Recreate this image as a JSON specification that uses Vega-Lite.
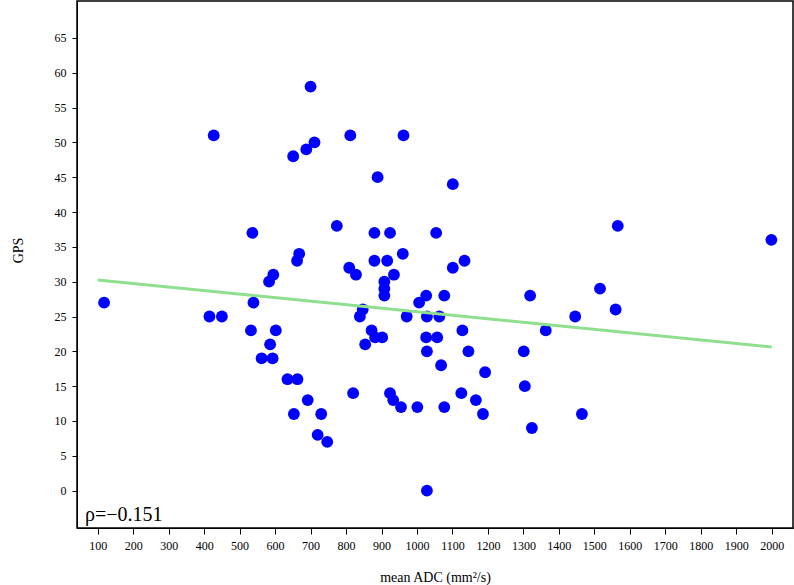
{
  "$schema": "https://vega.github.io/schema/vega-lite/v6.json",
  "width": 716,
  "height": 527,
  "autosize": {"type": "none"},
  "padding": {"left": 77, "top": 1, "right": 1, "bottom": 57},
  "background": "white",
  "config": {
    "view": {"stroke": "black", "strokeWidth": 1.5},
    "axis": {
      "labelFont": "Liberation Serif",
      "labelFontSize": 12,
      "labelColor": "black",
      "titleFont": "Liberation Serif",
      "titleFontSize": 14,
      "titleFontWeight": "normal",
      "titleColor": "black",
      "tickColor": "black",
      "domainColor": "black",
      "grid": false,
      "labelOverlap": false,
      "labelFlush": false,
      "format": "d"
    }
  },
  "datasets": {
    "pts": [
      {"adc": 118, "gps": 27},
      {"adc": 415, "gps": 25},
      {"adc": 450, "gps": 25},
      {"adc": 427, "gps": 51},
      {"adc": 536, "gps": 37},
      {"adc": 539, "gps": 27},
      {"adc": 532, "gps": 23},
      {"adc": 583, "gps": 30},
      {"adc": 595, "gps": 31},
      {"adc": 602, "gps": 23},
      {"adc": 586, "gps": 21},
      {"adc": 562, "gps": 19},
      {"adc": 593, "gps": 19},
      {"adc": 635, "gps": 16},
      {"adc": 663, "gps": 16},
      {"adc": 653, "gps": 11},
      {"adc": 692, "gps": 13},
      {"adc": 730, "gps": 11},
      {"adc": 720, "gps": 8},
      {"adc": 747, "gps": 7},
      {"adc": 662, "gps": 33},
      {"adc": 668, "gps": 34},
      {"adc": 651, "gps": 48},
      {"adc": 688, "gps": 49},
      {"adc": 711, "gps": 50},
      {"adc": 700, "gps": 58},
      {"adc": 774, "gps": 38},
      {"adc": 809, "gps": 32},
      {"adc": 828, "gps": 31},
      {"adc": 812, "gps": 51},
      {"adc": 820, "gps": 14},
      {"adc": 880, "gps": 37},
      {"adc": 924, "gps": 37},
      {"adc": 889, "gps": 45},
      {"adc": 962, "gps": 51},
      {"adc": 960, "gps": 34},
      {"adc": 880, "gps": 33},
      {"adc": 916, "gps": 33},
      {"adc": 935, "gps": 31},
      {"adc": 908, "gps": 30},
      {"adc": 908, "gps": 29},
      {"adc": 908, "gps": 28},
      {"adc": 847, "gps": 26},
      {"adc": 839, "gps": 25},
      {"adc": 872, "gps": 23},
      {"adc": 882, "gps": 22},
      {"adc": 902, "gps": 22},
      {"adc": 854, "gps": 21},
      {"adc": 924, "gps": 14},
      {"adc": 933, "gps": 13},
      {"adc": 955, "gps": 12},
      {"adc": 971, "gps": 25},
      {"adc": 1001, "gps": 12},
      {"adc": 1006, "gps": 27},
      {"adc": 1026, "gps": 28},
      {"adc": 1028, "gps": 25},
      {"adc": 1026, "gps": 22},
      {"adc": 1028, "gps": 20},
      {"adc": 1028, "gps": 0},
      {"adc": 1054, "gps": 37},
      {"adc": 1057, "gps": 22},
      {"adc": 1063, "gps": 25},
      {"adc": 1068, "gps": 18},
      {"adc": 1077, "gps": 28},
      {"adc": 1077, "gps": 12},
      {"adc": 1101, "gps": 44},
      {"adc": 1101, "gps": 32},
      {"adc": 1134, "gps": 33},
      {"adc": 1128, "gps": 23},
      {"adc": 1145, "gps": 20},
      {"adc": 1125, "gps": 14},
      {"adc": 1166, "gps": 13},
      {"adc": 1186, "gps": 11},
      {"adc": 1192, "gps": 17},
      {"adc": 1301, "gps": 20},
      {"adc": 1304, "gps": 15},
      {"adc": 1319, "gps": 28},
      {"adc": 1324, "gps": 9},
      {"adc": 1363, "gps": 23},
      {"adc": 1446, "gps": 25},
      {"adc": 1465, "gps": 11},
      {"adc": 1516, "gps": 29},
      {"adc": 1560, "gps": 26},
      {"adc": 1566, "gps": 38},
      {"adc": 1999, "gps": 36}
    ],
    "fit": [
      {"adc": 100, "gps": 30.25},
      {"adc": 2000, "gps": 20.63}
    ],
    "note": [
      {"label": "ρ=−0.151"}
    ]
  },
  "layer": [
    {
      "data": {"name": "pts"},
      "mark": {"type": "circle", "size": 140, "color": "#0000FF", "opacity": 1},
      "encoding": {
        "x": {
          "field": "adc", "type": "quantitative",
          "scale": {"domain": [41.6, 2060], "nice": false, "zero": false},
          "axis": {
            "title": "mean ADC (mm²/s)",
            "values": [100,200,300,400,500,600,700,800,900,1000,1100,1200,1300,1400,1500,1600,1700,1800,1900,2000],
            "tickSize": 6, "labelPadding": 6, "titlePadding": 19,
            "labelFlush": false, "labelOverlap": false, "format": "d"
          }
        },
        "y": {
          "field": "gps", "type": "quantitative",
          "scale": {"domain": [-5.36, 70.29], "nice": false, "zero": false},
          "axis": {
            "title": "GPS",
            "values": [0,5,10,15,20,25,30,35,40,45,50,55,60,65],
            "tickSize": 5, "labelPadding": 6,
            "titleX": -59, "titleY": 249, "titleAlign": "center", "titleBaseline": "middle", "titleAngle": -90,
            "labelFlush": false, "labelOverlap": false, "format": "d"
          }
        }
      }
    },
    {
      "data": {"name": "fit"},
      "mark": {"type": "line", "color": "#8EE08E", "strokeWidth": 3},
      "encoding": {
        "x": {
          "field": "adc", "type": "quantitative",
          "scale": {"domain": [41.6, 2060], "nice": false, "zero": false},
          "axis": {
            "title": "mean ADC (mm²/s)",
            "values": [100,200,300,400,500,600,700,800,900,1000,1100,1200,1300,1400,1500,1600,1700,1800,1900,2000],
            "tickSize": 6, "labelPadding": 6, "titlePadding": 19,
            "labelFlush": false, "labelOverlap": false, "format": "d"
          }
        },
        "y": {
          "field": "gps", "type": "quantitative",
          "scale": {"domain": [-5.36, 70.29], "nice": false, "zero": false},
          "axis": {
            "title": "GPS",
            "values": [0,5,10,15,20,25,30,35,40,45,50,55,60,65],
            "tickSize": 5, "labelPadding": 6,
            "titleX": -59, "titleY": 249, "titleAlign": "center", "titleBaseline": "middle", "titleAngle": -90,
            "labelFlush": false, "labelOverlap": false, "format": "d"
          }
        }
      }
    },
    {
      "data": {"name": "note"},
      "mark": {"type": "text", "align": "left", "baseline": "alphabetic", "font": "Liberation Serif", "fontSize": 20, "color": "black"},
      "encoding": {
        "text": {"field": "label"},
        "x": {
          "datum": 64, "type": "quantitative",
          "scale": {"domain": [41.6, 2060], "nice": false, "zero": false},
          "axis": {
            "title": "mean ADC (mm²/s)",
            "values": [100,200,300,400,500,600,700,800,900,1000,1100,1200,1300,1400,1500,1600,1700,1800,1900,2000],
            "tickSize": 6, "labelPadding": 6, "titlePadding": 19,
            "labelFlush": false, "labelOverlap": false, "format": "d"
          }
        },
        "y": {
          "datum": -4.3, "type": "quantitative",
          "scale": {"domain": [-5.36, 70.29], "nice": false, "zero": false},
          "axis": {
            "title": "GPS",
            "values": [0,5,10,15,20,25,30,35,40,45,50,55,60,65],
            "tickSize": 5, "labelPadding": 6,
            "titleX": -59, "titleY": 249, "titleAlign": "center", "titleBaseline": "middle", "titleAngle": -90,
            "labelFlush": false, "labelOverlap": false, "format": "d"
          }
        }
      }
    }
  ]
}
